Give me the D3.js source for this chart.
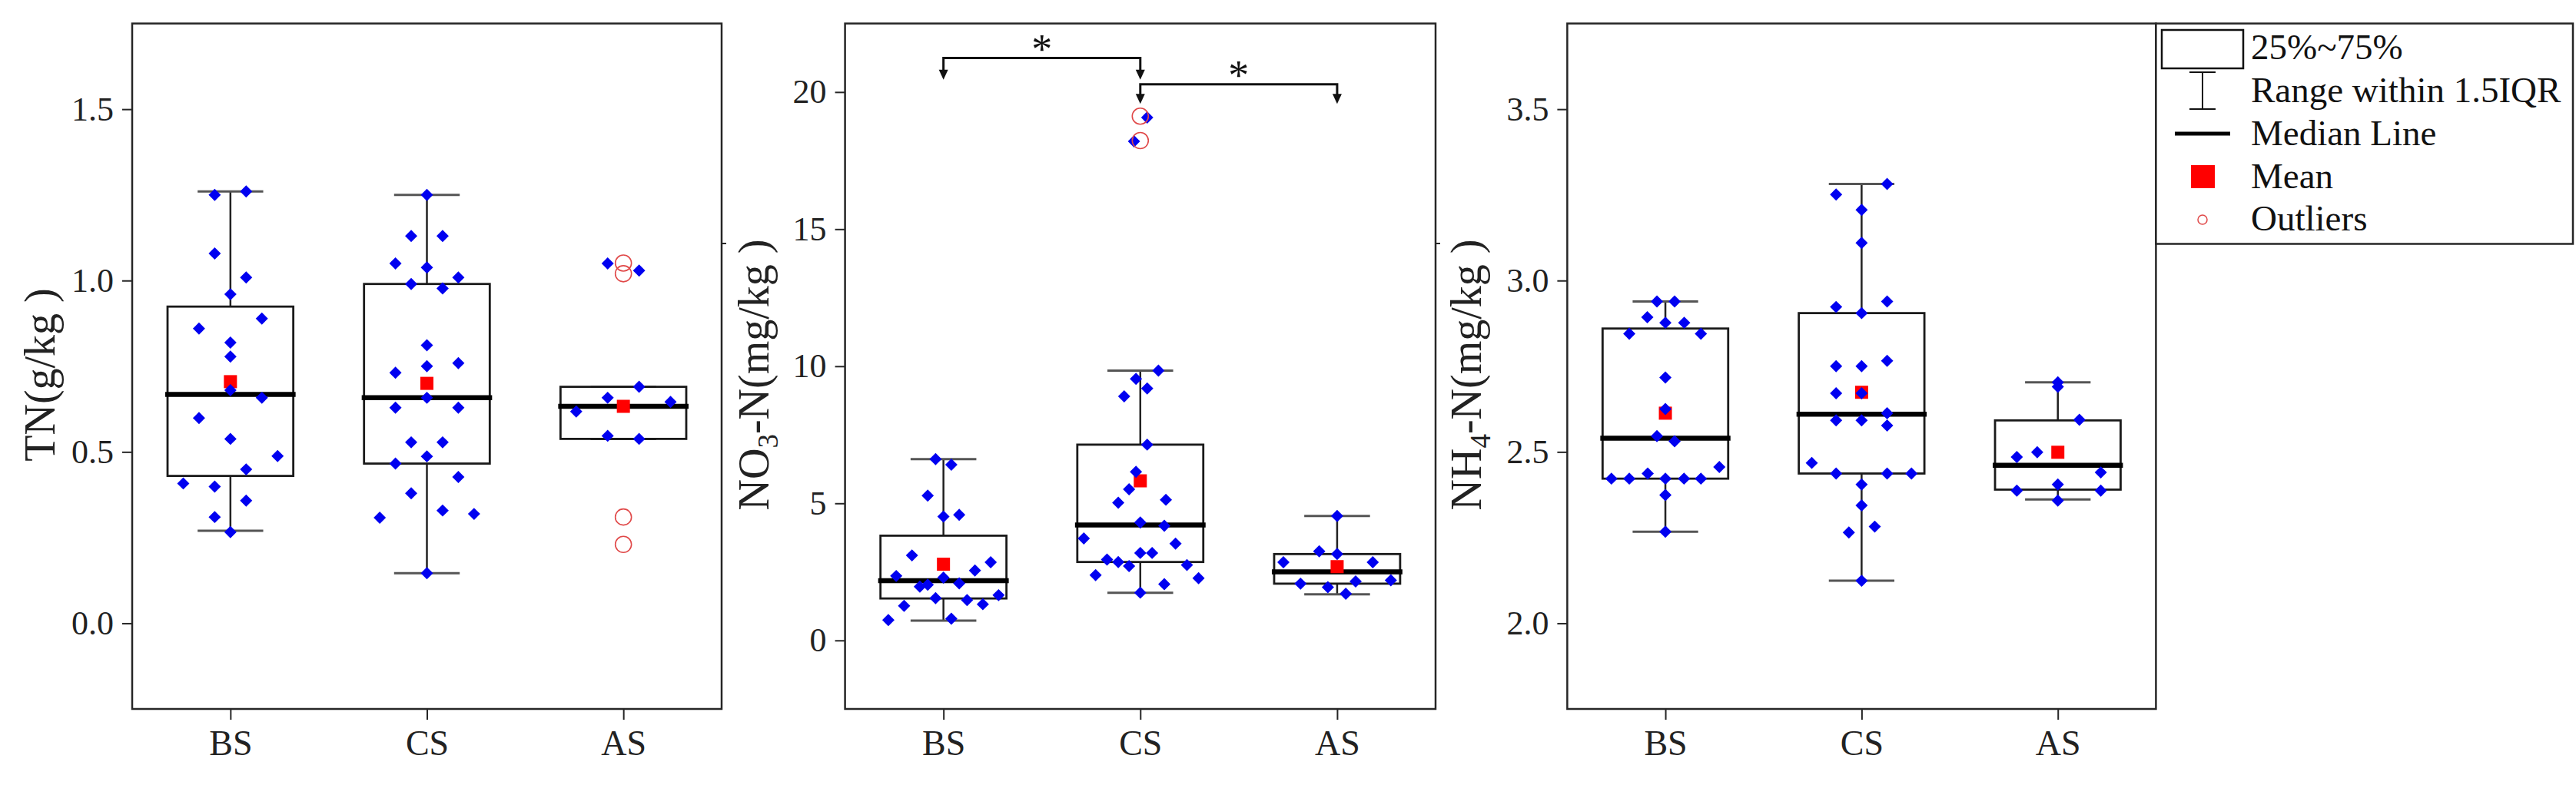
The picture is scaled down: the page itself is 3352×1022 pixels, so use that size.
<!DOCTYPE html>
<html><head><meta charset="utf-8">
<script src="https://cdn.jsdelivr.net/npm/d3@7"></script>
<style>
body{margin:0;background:#fff}svg{display:block}
text{font-family:"Liberation Serif","Tinos","Nimbus Roman","Times New Roman","DejaVu Serif",serif}
</style>
</head><body>
<svg id="c" width="3352" height="1022"></svg>
<script>
// ---------------- DATA ----------------
const categories = ["BS", "CS", "AS"];

// Panel 1: TN (g/kg)
const tnTicks = [0.0, 0.5, 1.0, 1.5];
const tnBS = [1.26,1.25,1.079,1.009,0.96,0.889,0.86,0.819,0.778,0.68,0.658,0.599,0.538,0.488,0.449,0.408,0.399,0.358,0.31,0.266];
const tnBSJit = [0.08,-0.08,-0.08,0.08,0,0.16,-0.16,0,0,0,0.16,-0.16,0,0.24,0.08,-0.24,-0.08,0.08,-0.08,0];
const tnCS = [1.25,1.13,1.13,1.05,1.038,1.009,0.99,0.977,0.811,0.759,0.75,0.731,0.658,0.629,0.629,0.528,0.528,0.487,0.466,0.427,0.379,0.329,0.319,0.308,0.146];
const tnCSJit = [0,-0.08,0.08,-0.16,0,0.16,-0.08,0.08,0,0.16,0,-0.16,0,-0.16,0.16,-0.08,0.08,0,-0.16,0.16,-0.08,0.08,0.24,-0.24,0];
const tnAS = [1.05,1.029,0.69,0.658,0.646,0.618,0.547,0.538];
const tnASJit = [-0.08,0.08,0.08,-0.08,0.24,-0.24,-0.08,0.08];
const tnOutliers = [[], [], [1.051, 1.020, 0.310, 0.230]];
const tnQ1 = [0.430, 0.466, 0.538];
const tnMedian = [0.668, 0.658, 0.633];
const tnQ3 = [0.924, 0.990, 0.690];
const tnLow = [0.270, 0.146, 0.538];
const tnHigh = [1.260, 1.250, 0.690];
const tnMean = [0.705, 0.700, 0.633];

// Panel 2: NO3-N (mg/kg)
const no3Ticks = [0, 5, 10, 15, 20];
const no3BS = [6.61,6.41,5.28,4.58,4.52,3.10,2.85,2.55,2.35,2.29,2.08,2.03,1.96,1.65,1.54,1.47,1.32,1.26,0.79,0.74];
const no3BSJit = [-0.04,0.04,-0.08,0.08,0,-0.16,0.24,0.16,-0.24,0,0.08,-0.08,-0.12,0.28,-0.04,0.12,0.20,-0.20,0.04,-0.28];
const no3CS = [19.07,18.2,9.84,9.54,9.19,8.90,7.14,6.15,5.51,5.13,5.02,4.30,4.18,3.72,3.53,3.19,3.19,2.95,2.86,2.75,2.71,2.38,2.27,2.05,1.74];
const no3CSJit = [0.035,-0.032,0.092,-0.022,0.035,-0.082,0.035,-0.022,-0.057,0.130,-0.112,0,0.122,-0.287,0.179,0,0.060,-0.169,-0.112,0.237,-0.057,-0.227,0.296,0.122,0];
const no3AS = [4.54,3.25,3.15,2.85,2.85,2.19,2.15,2.07,1.94,1.70];
const no3ASJit = [0,-0.091,0,-0.273,0.181,0.273,0.094,-0.186,-0.047,0.044];
const no3Outliers = [[], [19.12, 18.23], []];
const no3Q1 = [1.53, 2.86, 2.07];
const no3Median = [2.18, 4.21, 2.50];
const no3Q3 = [3.82, 7.14, 3.15];
const no3Low = [0.72, 1.74, 1.68];
const no3High = [6.61, 9.84, 4.54];
const no3Mean = [2.78, 5.82, 2.69];
// significance brackets: [from, to, bar level, arrow tip level, label]
const no3Sig = [["BS", "CS", 21.24, 20.45, "*"], ["CS", "AS", 20.28, 19.57, "*"]];

// Panel 3: NH4-N (mg/kg)
const nh4Ticks = [2.0, 2.5, 3.0, 3.5];
const nh4BS = [2.939,2.939,2.893,2.877,2.877,2.845,2.845,2.717,2.625,2.546,2.531,2.456,2.437,2.422,2.422,2.422,2.422,2.422,2.374,2.267];
const nh4BSJit = [-0.043,0.047,-0.092,0,0.096,-0.184,0.181,0,0,-0.043,0.047,0.275,-0.090,-0.275,-0.184,0,0.095,0.181,0,0];
const nh4CS = [3.282,3.251,3.206,3.110,2.939,2.923,2.905,2.766,2.750,2.750,2.671,2.671,2.613,2.592,2.592,2.577,2.468,2.437,2.437,2.437,2.405,2.344,2.282,2.265,2.124];
const nh4CSJit = [0.130,-0.130,0,0,0.130,-0.130,0,0.130,-0.130,0,-0.130,0,0.130,-0.130,0,0.130,-0.254,-0.130,0.130,0.254,0,0,0.067,-0.065,0];
const nh4AS = [2.703,2.690,2.594,2.499,2.485,2.440,2.405,2.387,2.387,2.358];
const nh4ASJit = [0,0,0.110,-0.105,-0.209,0.219,0,-0.209,0.219,0];
const nh4Outliers = [[], [], []];
const nh4Q1 = [2.422, 2.437, 2.390];
const nh4Median = [2.540, 2.610, 2.461];
const nh4Q3 = [2.860, 2.905, 2.592];
const nh4Low = [2.267, 2.124, 2.361];
const nh4High = [2.939, 3.282, 2.703];
const nh4Mean = [2.613, 2.674, 2.499];

const legendLabels = ["25%~75%", "Range within 1.5IQR", "Median Line", "Mean", "Outliers"];

// ---------------- DRAW ----------------
const svg = d3.select("#c");
svg.append("rect").attr("width", 3352).attr("height", 1022).attr("fill", "#fff");
const TOP = 30.6, BOTTOM = 923;
const FRAME = "#262626", BLUE = "#0000f0", RED = "#ff0000", OUT = "#e04848";

const panels = [
  { x0: 172, x1: 939, domain: [-0.25, 1.75], ticks: tnTicks, fmt: d3.format(".1f"),
    title: [["TN(g/kg )", 0]], titleX: 71,
    vals: [tnBS, tnCS, tnAS], jit: [tnBSJit, tnCSJit, tnASJit], out: tnOutliers,
    q1: tnQ1, med: tnMedian, q3: tnQ3, lo: tnLow, hi: tnHigh, mean: tnMean, sig: [] },
  { x0: 1099.6, x1: 1868, domain: [-2.5, 22.5], ticks: no3Ticks, fmt: d3.format("d"),
    title: [["NO", 0], ["3", 1], ["-N(mg/kg )", -1]], titleX: 1000,
    vals: [no3BS, no3CS, no3AS], jit: [no3BSJit, no3CSJit, no3ASJit], out: no3Outliers,
    q1: no3Q1, med: no3Median, q3: no3Q3, lo: no3Low, hi: no3High, mean: no3Mean, sig: no3Sig },
  { x0: 2039.4, x1: 2805.4, domain: [1.75, 3.75], ticks: nh4Ticks, fmt: d3.format(".1f"),
    title: [["NH", 0], ["4", 1], ["-N(mg/kg )", -1]], titleX: 1927,
    vals: [nh4BS, nh4CS, nh4AS], jit: [nh4BSJit, nh4CSJit, nh4ASJit], out: nh4Outliers,
    q1: nh4Q1, med: nh4Median, q3: nh4Q3, lo: nh4Low, hi: nh4High, mean: nh4Mean, sig: [] }
];

const BOXW = 0.64, CAPW = 0.334;
const diamond = d3.symbol().type(d3.symbolDiamond2).size(2 * 9 * 9);

panels.forEach((p, pi) => {
  const x = d3.scaleLinear().domain([0.5, 3.5]).range([p.x0, p.x1]);
  const y = d3.scaleLinear().domain(p.domain).range([BOTTOM, TOP]);
  const g = svg.append("g");
  const ux = x(2) - x(1); // px per category unit

  // axes
  const ya = g.append("g").attr("transform", `translate(${p.x0},0)`)
    .call(d3.axisLeft(y).tickValues(p.ticks).tickFormat(p.fmt).tickSize(13).tickPadding(11));
  ya.select(".domain").remove();
  ya.selectAll("line").attr("stroke", FRAME).attr("stroke-width", 2);
  ya.selectAll("text").attr("font-size", 44).attr("fill", "#222");

  const xa = g.append("g").attr("transform", `translate(0,${BOTTOM})`)
    .call(d3.axisBottom(x).tickValues([1, 2, 3]).tickFormat((d) => categories[d - 1]).tickSize(14).tickPadding(13));
  xa.select(".domain").remove();
  xa.selectAll("line").attr("stroke", FRAME).attr("stroke-width", 2);
  xa.selectAll("text").attr("font-size", 46).attr("fill", "#222");
  ya.attr("font-family", null); xa.attr("font-family", null);

  // frame
  g.append("rect").attr("x", p.x0).attr("y", TOP).attr("width", p.x1 - p.x0).attr("height", BOTTOM - TOP)
    .attr("fill", "none").attr("stroke", FRAME).attr("stroke-width", 2.5);

  // title
  const t = g.append("text").attr("transform", `translate(${p.titleX},488) rotate(-90)`)
    .attr("text-anchor", "middle").attr("font-size", 56).attr("fill", "#222");
  p.title.forEach(([s, mode]) => {
    const ts = t.append("tspan").text(s);
    if (mode === 1) ts.attr("font-size", 37).attr("dy", 12);
    if (mode === -1) ts.attr("dy", -12);
  });

  // boxes
  categories.forEach((c, i) => {
    const cx = x(i + 1);
    const bw = BOXW * ux, cw = CAPW * ux;
    g.append("line").attr("x1", cx).attr("x2", cx).attr("y1", y(p.hi[i])).attr("y2", y(p.q3[i]))
      .attr("stroke", "#222").attr("stroke-width", 2.5);
    g.append("line").attr("x1", cx).attr("x2", cx).attr("y1", y(p.q1[i])).attr("y2", y(p.lo[i]))
      .attr("stroke", "#222").attr("stroke-width", 2.5);
    [p.hi[i], p.lo[i]].forEach(v => {
      g.append("line").attr("x1", cx - cw / 2).attr("x2", cx + cw / 2).attr("y1", y(v)).attr("y2", y(v))
        .attr("stroke", "#555").attr("stroke-width", 3);
    });
    g.append("rect").attr("x", cx - bw / 2).attr("y", y(p.q3[i])).attr("width", bw)
      .attr("height", y(p.q1[i]) - y(p.q3[i])).attr("fill", "none").attr("stroke", "#1a1a1a").attr("stroke-width", 2.8);
    g.append("line").attr("x1", cx - bw / 2 - 3).attr("x2", cx + bw / 2 + 3).attr("y1", y(p.med[i])).attr("y2", y(p.med[i]))
      .attr("stroke", "#000").attr("stroke-width", 6.5);
    g.append("rect").attr("x", cx - 8.5).attr("y", y(p.mean[i]) - 8.5).attr("width", 17).attr("height", 17).attr("fill", RED);
    p.vals[i].forEach((v, k) => {
      g.append("path").attr("d", diamond)
        .attr("transform", `translate(${x(i + 1 + p.jit[i][k])},${y(v)})`).attr("fill", BLUE);
    });
    p.out[i].forEach(v => {
      g.append("circle").attr("cx", cx).attr("cy", y(v)).attr("r", 10.5)
        .attr("fill", "none").attr("stroke", OUT).attr("stroke-width", 1.6);
    });
  });

  // significance brackets
  p.sig.forEach(([a, b, h, tip, lab]) => {
    const xa1 = x(categories.indexOf(a) + 1), xb1 = x(categories.indexOf(b) + 1);
    const yh = y(h), yt = y(tip);
    g.append("path").attr("d", `M${xa1},${yt - 11}V${yh}H${xb1}V${yt - 11}`)
      .attr("fill", "none").attr("stroke", "#111").attr("stroke-width", 3);
    [xa1, xb1].forEach(xx => {
      g.append("path").attr("d", `M${xx - 6},${yt - 13}L${xx + 6},${yt - 13}L${xx},${yt}Z`).attr("fill", "#111");
    });
    g.append("text").attr("x", (xa1 + xb1) / 2).attr("y", yh + 6).attr("text-anchor", "middle")
      .attr("font-size", 54).attr("fill", "#111").text(lab);
  });

  if (pi < 2) {
    g.append("line").attr("x1", p.x1).attr("x2", p.x1 + 6).attr("y1", 317).attr("y2", 317)
      .attr("stroke", FRAME).attr("stroke-width", 2);
  }
});

// ---------------- LEGEND ----------------
const lg = svg.append("g");
const LX0 = 2805.4, LX1 = 3348, LY0 = 30.6, LY1 = 317.5;
lg.append("rect").attr("x", LX0).attr("y", LY0).attr("width", LX1 - LX0).attr("height", LY1 - LY0)
  .attr("fill", "#fff").attr("stroke", FRAME).attr("stroke-width", 2.5);
const symX = 2866, textX = 2929;
const baselines = [77, 133, 189, 245, 300];
legendLabels.forEach((s, i) => {
  lg.append("text").attr("x", textX).attr("y", baselines[i])
    .attr("font-size", 47).attr("fill", "#111").text(s);
});
lg.append("rect").attr("x", 2813).attr("y", 39).attr("width", 106).attr("height", 50)
  .attr("fill", "none").attr("stroke", "#111").attr("stroke-width", 2.5);
lg.append("line").attr("x1", symX).attr("x2", symX).attr("y1", 94).attr("y2", 142).attr("stroke", "#111").attr("stroke-width", 2);
[94, 142].forEach(v => lg.append("line").attr("x1", symX - 17).attr("x2", symX + 17).attr("y1", v).attr("y2", v)
  .attr("stroke", "#111").attr("stroke-width", 2));
lg.append("line").attr("x1", 2830).attr("x2", 2902).attr("y1", 174).attr("y2", 174).attr("stroke", "#000").attr("stroke-width", 5);
lg.append("rect").attr("x", symX - 15).attr("y", 215).attr("width", 31).attr("height", 30).attr("fill", RED);
lg.append("circle").attr("cx", symX).attr("cy", 286).attr("r", 6).attr("fill", "none").attr("stroke", OUT).attr("stroke-width", 1.5);
</script>
</body></html>
